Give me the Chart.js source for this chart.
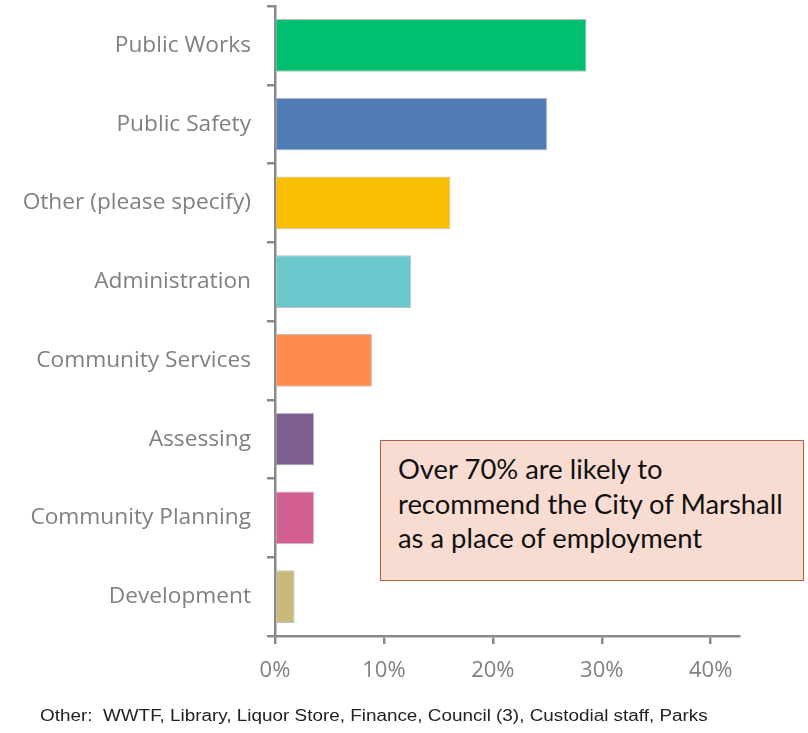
<!DOCTYPE html>
<html>
<head>
	<title>Department of employment</title>
	<script src="https://cdn.jsdelivr.net/npm/chart.js@4.4.1/dist/chart.umd.min.js"></script>
	<style type="text/css">
		body{
			margin: 0;
			background: #fff;
		}
		#wrap{
			position: relative;
			width: 808px;
			height: 733px;
		}
		#note{
			position: absolute;
			left: 380px;
			top: 440px;
			width: 424px;
			height: 141px;
			box-sizing: border-box;
			background: #f8dcd1;
			border: 1.5px solid #b0603c;
			padding: 11px 0 0 17px;
			font-family: Lato, sans-serif;
			font-size: 27.4px;
			line-height: 34.5px;
			color: #111;
		}
		#foot{
			position: absolute;
			left: 40px;
			top: 707px;
			font-family: 'Liberation Sans', Arial, sans-serif;
			font-size: 16px;
			color: #222;
			white-space: pre;
			transform: scaleX(1.18);
			transform-origin: left top;
		}
	</style>
</head>
<body>
<div id="wrap">
	<canvas id="myChart" width="808" height="733"></canvas>
	<div id="note">Over 70% are likely to<br>recommend the City of Marshall<br>as a place of employment</div>
	<div id="foot">Other:  WWTF, Library, Liquor Store, Finance, Council (3), Custodial staff, Parks</div>
</div>

<script>
	const departments = ['Public Works', 'Public Safety', 'Other (please specify)', 'Administration',
		'Community Services', 'Assessing', 'Community Planning', 'Development'];
	const shares = [28.6, 25.0, 16.1, 12.5, 8.9, 3.6, 3.6, 1.8];
	const barColors = ['#00bf6f', '#507cb6', '#f9be00', '#6bc8cd', '#ff8b4f', '#7d5e90', '#d25f90', '#c9b97a'];
	const xTicks = [0, 10, 20, 30, 40];

	const axisGray = '#8a8a8a';
	const labelGray = '#808080';

	let ctx = document.getElementById('myChart').getContext('2d');
	let myChart = new Chart(ctx, {
		type: 'bar',
		data: {
			labels: departments,
			datasets: [{
				data: shares,
				backgroundColor: barColors,
				borderColor: 'rgba(150,150,150,0.6)',
				borderWidth: 1,
				barPercentage: 0.67,
				categoryPercentage: 1
			}]
		},
		options: {
			indexAxis: 'y',
			responsive: false,
			animation: false,
			layout: {
				padding: { left: 0, top: 6, right: 69, bottom: 0 }
			},
			plugins: {
				legend: { display: false },
				tooltip: { enabled: false }
			},
			scales: {
				y: {
					afterFit: (scale) => {
						// keep the plot starting near the top, labels sit between ticks
						scale.width = 275;
						scale.paddingTop = 0;
						scale.paddingBottom = 0;
					},
					border: { display: true, color: axisGray, width: 2.5 },
					grid: {
						drawOnChartArea: false,
						drawTicks: true,
						tickLength: 8,
						tickColor: axisGray,
						lineWidth: 2.5
					},
					ticks: {
						padding: 16,
						color: labelGray,
						font: { family: 'Open Sans', size: 22.7 }
					}
				},
				x: {
					min: 0,
					max: 42.6,
					afterFit: (scale) => { scale.height = 97; },
					afterBuildTicks: (scale) => {
						scale.ticks = xTicks.map(v => ({ value: v }));
					},
					border: { display: true, color: axisGray, width: 2.5 },
					grid: {
						drawOnChartArea: false,
						drawTicks: true,
						tickLength: 8,
						tickColor: axisGray,
						lineWidth: 2.5
					},
					ticks: {
						padding: 14,
						color: labelGray,
						font: { family: 'Open Sans', size: 22 },
						callback: (v) => v + '%'
					}
				}
			}
		}
	});
</script>
</body>
</html>
